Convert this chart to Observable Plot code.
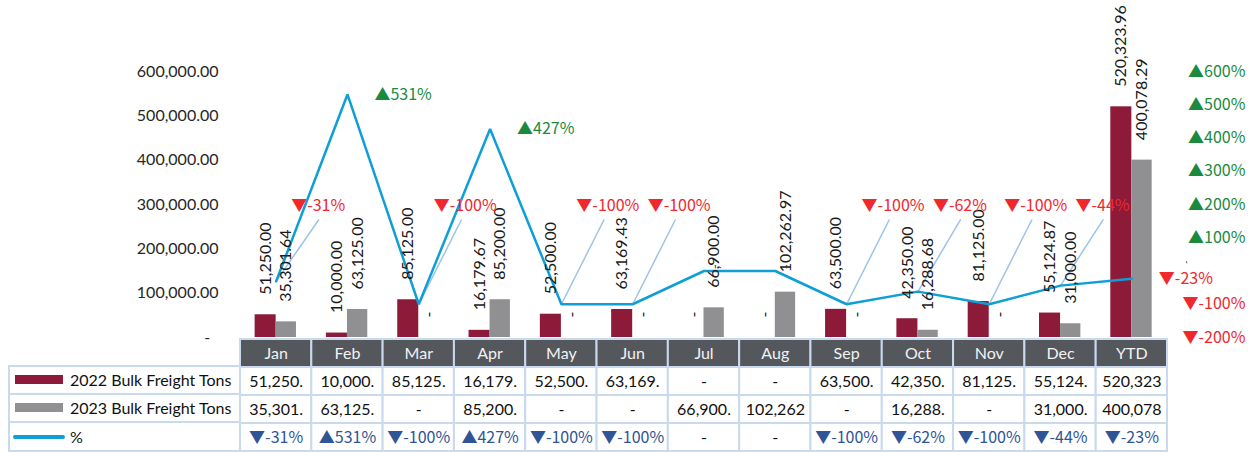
<!DOCTYPE html>
<html>
<head>
<meta charset="utf-8">
<script src="https://cdn.jsdelivr.net/npm/d3@7"></script>
<script src="https://cdn.jsdelivr.net/npm/@observablehq/plot@0.6"></script>
<style>
  body { margin: 0; background: #ffffff; font-family: Lato, "DejaVu Sans", sans-serif; }
  #wrap { position: relative; width: 1255px; height: 452px; overflow: hidden; background: #fff; }
  #chart { position: absolute; left: 0; top: 0; }
  #table { position: absolute; left: 240px; top: 337px; }
  #legend { position: absolute; left: 8px; top: 364.75px; width: 232px; }
  .lrow { box-sizing: border-box; height: 28.75px; border-left: 2px solid #C9D9EE; border-bottom: 2px solid #C9D9EE;
          display: flex; align-items: center; font-size: 16px; color: #111; white-space: nowrap; }
  .lrow:first-child { border-top: 2px solid #C9D9EE; height: 29.75px; }
  .sw { width: 48px; height: 9px; margin-left: 5px; margin-right: 7px; flex: none; }
  .swl { width: 52px; height: 4px; border-radius: 2px; margin-left: 3px; margin-right: 5px; flex: none; }
</style>
</head>
<body>
<div id="wrap">
  <div id="chart"></div>
  <div id="legend"></div>
  <div id="table"></div>
</div>
<script>
// ---- data ----
const months = ["Jan", "Feb", "Mar", "Apr", "May", "Jun", "Jul", "Aug", "Sep", "Oct", "Nov", "Dec", "YTD"];
const tons2022 = [51250.00, 10000.00, 85125.00, 16179.67, 52500.00, 63169.43, 0, 0, 63500.00, 42350.00, 81125.00, 55124.87, 520323.96];
const tons2023 = [35301.64, 63125.00, 0, 85200.00, 0, 0, 66900.00, 102262.97, 0, 16288.68, 0, 31000.00, 400078.29];
const pctChange = [-31, 531, -100, 427, -100, -100, 0, 0, -100, -62, -100, -44, -23];
const leftTicks = [0, 100000, 200000, 300000, 400000, 500000, 600000];
const rightTicks = [600, 500, 400, 300, 200, 100, -100, -200];
const seriesNames = ["2022 Bulk Freight Tons", "2023 Bulk Freight Tons", "%"];

// ---- styles ----
const C22 = "#8C1A38", C23 = "#909092", CLINE = "#0F9ED5", CLEAD = "#9DC3E6";
const GREEN = "#1B8A3E", RED = "#F0282D", TBLUE = "#2F5597", HDR = "#54575C", BORDER = "#C9D9EE";
const FONT = "Lato, 'DejaVu Sans', sans-serif";
const PFONT = "'Noto Sans CJK SC', Lato, sans-serif";
const FS = 16;

// right (percent) axis shares the pixel range of the left axis: -200%..600%  <->  0..600,000
const toY = p => (p + 200) * 750;
const LABEL_LEVEL = 195;   // percent level where dragged-up negative labels sit
const LEADER_END = 155;

const fmt2 = d3.format(",.2f");
const fmtPct = p => p === 0 ? "-" : (p > 0 ? "\u25B2" : "\u25BC") + p + "%";

const rows = months.map((m, i) => ({i, m, v22: tons2022[i], v23: tons2023[i], p: pctChange[i]}));
const last = months.length - 1;
const posLabels = rows.filter(d => d.p > 0 || (d.i === last && d.p !== 0));
const negLabels = rows.filter(d => d.p < 0 && d.i !== last);
const zeroLabels = rows.filter(d => d.p === 0);

const chart = Plot.plot({
  width: 1255, height: 337,
  marginLeft: 240, marginRight: 88, marginTop: 71, marginBottom: 0,
  style: {fontFamily: FONT, fontSize: FS + "px", color: "#262626", background: "transparent", overflow: "visible"},
  x: {type: "linear", domain: [-0.5, months.length - 0.5], axis: null},
  y: {domain: [0, 600000], axis: null},
  color: {type: "identity"},
  marks: [
    Plot.axisY(leftTicks, {anchor: "left", tickSize: 0, tickPadding: 22, label: null, fontSize: FS,
      tickFormat: d => d === 0 ? "-\u00a0\u00a0" : fmt2(d)}),
    Plot.rectY(rows, {x1: d => d.i - 0.295, x2: d => d.i, y1: 0, y2: "v22", fill: C22}),
    Plot.rectY(rows, {x1: d => d.i, x2: d => d.i + 0.285, y1: 0, y2: "v23", fill: C23}),
    Plot.link(negLabels, {x1: "i", y1: d => toY(d.p), x2: d => d.i + 0.6, y2: () => toY(LEADER_END),
      stroke: CLEAD, strokeWidth: 1.5}),
    Plot.line(rows, {x: "i", y: d => toY(d.p), stroke: CLINE, strokeWidth: 2.5, strokeLinejoin: "miter"}),
    Plot.text(rows, {x: d => d.i - 0.1475, y: "v22", text: d => d.v22 ? fmt2(d.v22) : "-",
      rotate: -90, textAnchor: "start", lineAnchor: "middle", dy: -20, fill: "#1a1a1a", fontSize: FS}),
    Plot.text(rows, {x: d => d.i + 0.1425, y: "v23", text: d => d.v23 ? fmt2(d.v23) : "-",
      rotate: -90, textAnchor: "start", lineAnchor: "middle", dy: -20, fill: "#1a1a1a", fontSize: FS}),
    Plot.text(posLabels, {x: "i", y: d => toY(d.p), text: d => fmtPct(d.p), dx: 27, textAnchor: "start",
      fill: d => d.p > 0 ? GREEN : RED, fontSize: FS, fontFamily: PFONT}),
    Plot.text(negLabels, {x: d => d.i + 0.21, y: () => toY(LABEL_LEVEL), text: d => fmtPct(d.p), textAnchor: "start",
      fill: RED, fontSize: FS, fontFamily: PFONT}),
    Plot.text(zeroLabels, {x: "i", y: d => toY(d.p), text: () => "'", dx: 10, textAnchor: "start",
      fill: "#333", fontSize: 13}),
    Plot.text(rightTicks, {y: d => toY(d), frameAnchor: "right", dx: 78, textAnchor: "end",
      text: fmtPct, fill: d => d > 0 ? GREEN : RED, fontSize: FS, fontFamily: PFONT}),
    Plot.text([0], {y: d => toY(d), frameAnchor: "right", dx: 18, dy: -6, textAnchor: "start", text: () => "'",
      fill: "#404040", fontSize: 10})
  ]
});
document.getElementById("chart").appendChild(chart);

// ---- data table ----
const rowKeys = ["hdr", "r22", "r23", "pct"];
const trunc = v => v ? fmt2(v).slice(0, 7) : "-";
const cells = [];
months.forEach((m, i) => {
  cells.push({i, row: "hdr", text: m, fill: HDR, color: "#F2F2F2", font: FONT});
  cells.push({i, row: "r22", text: trunc(tons2022[i]), fill: "#ffffff", color: "#111111", font: FONT});
  cells.push({i, row: "r23", text: trunc(tons2023[i]), fill: "#ffffff", color: "#111111", font: FONT});
  cells.push({i, row: "pct", text: fmtPct(pctChange[i]), fill: "#ffffff", color: pctChange[i] === 0 ? "#111111" : TBLUE, font: PFONT});
});

const table = Plot.plot({
  width: 1015, height: 115,
  marginLeft: 0, marginRight: 88, marginTop: 0, marginBottom: 0,
  style: {fontFamily: FONT, fontSize: FS + "px", background: "transparent", overflow: "visible"},
  x: {type: "linear", domain: [-0.5, months.length - 0.5], axis: null},
  y: {type: "band", domain: rowKeys, padding: 0, axis: null},
  color: {type: "identity"},
  marks: [
    Plot.barX(cells, {x1: d => d.i - 0.5, x2: d => d.i + 0.5, y: "row", fill: "fill", stroke: BORDER, strokeWidth: 2}),
    Plot.text(cells.filter(d => d.row !== "pct"), {x: "i", y: "row", text: "text", fill: "color", fontSize: FS}),
    Plot.text(cells.filter(d => d.row === "pct"), {x: "i", y: "row", text: "text", fill: "color", fontSize: FS, fontFamily: PFONT})
  ]
});
document.getElementById("table").appendChild(table);

// ---- legend column ----
const legend = document.getElementById("legend");
const swatches = [C22, C23, CLINE];
seriesNames.forEach((name, k) => {
  const r = document.createElement("div");
  r.className = "lrow";
  const s = document.createElement("div");
  s.className = k === 2 ? "swl" : "sw";
  s.style.background = swatches[k];
  const t = document.createElement("span");
  t.textContent = name;
  r.appendChild(s); r.appendChild(t);
  legend.appendChild(r);
});
</script>
</body>
</html>
